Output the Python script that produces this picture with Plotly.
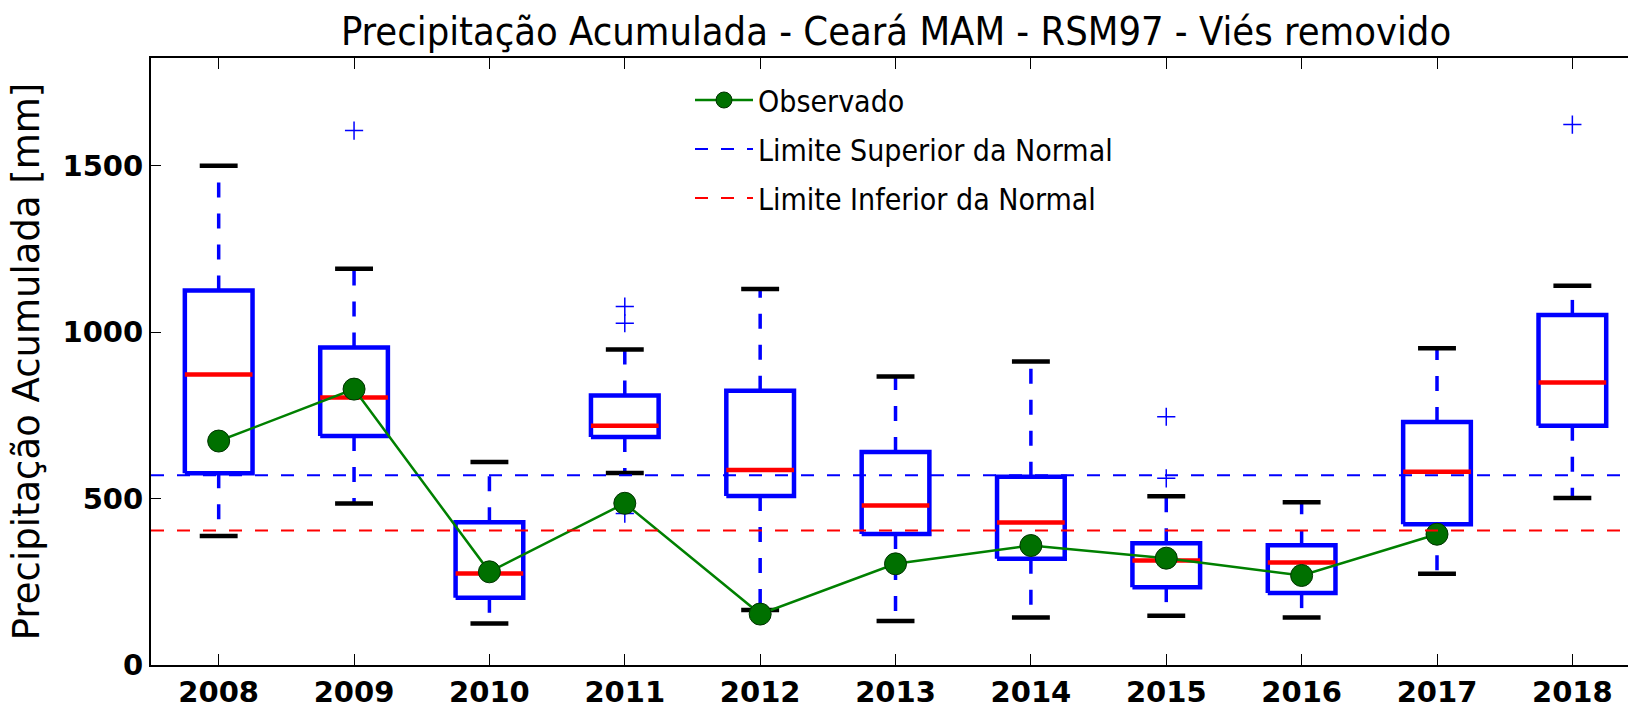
import plotly.graph_objects as go

# Boxplot statistics of the ensemble, per year (mm)
anos = [2008, 2009, 2010, 2011, 2012, 2013, 2014, 2015, 2016, 2017, 2018]
bigode_inf = [388, 485, 125, 577, 165, 132, 143, 148, 143, 274, 502]
q1 = [576, 688, 202, 685, 508, 394, 319, 234, 216, 423, 719]
mediana = [873, 804, 275, 719, 586, 479, 428, 314, 308, 581, 849]
q3 = [1125, 954, 429, 810, 824, 640, 566, 366, 360, 730, 1052]
bigode_sup = [1500, 1191, 610, 948, 1130, 867, 912, 507, 489, 952, 1140]

# Outliers
outlier_anos = [2009, 2011, 2011, 2011, 2015, 2015, 2018]
outlier_vals = [1606, 1077, 1027, 455, 746, 561, 1624]

# Observed accumulated precipitation
obs_anos = [2008, 2009, 2010, 2011, 2012, 2013, 2014, 2015, 2016, 2017]
observado = [673, 829, 280, 486, 153, 304, 359, 321, 269, 393]

# Normal limits
limite_superior = 570
limite_inferior = 404

titulo = "Precipitação Acumulada - Ceará MAM - RSM97 - Viés removido"
rotulo_y = "Precipitação Acumulada [mm]"
y_ticks = [0, 500, 1000, 1500]

HALF_BOX = 0.25
HALF_CAP = 0.14

x_min = anos[0] - 0.5
x_max = anos[-1] + 0.5 - 0.089
y_max = 1824


def hsegs(xc, half, yv):
    xs, ys = [], []
    for x, y in zip(xc, yv):
        xs += [x - half, x + half, None]
        ys += [y, y, None]
    return xs, ys


def vsegs(xc, y0, y1):
    xs, ys = [], []
    for x, a, b in zip(xc, y0, y1):
        xs += [x, x, None]
        ys += [a, b, None]
    return xs, ys


fig = go.Figure()

# whiskers (dashed, starting at the box edges)
wx1, wy1 = vsegs(anos, q3, bigode_sup)
wx2, wy2 = vsegs(anos, q1, bigode_inf)
fig.add_trace(go.Scatter(x=wx1 + wx2, y=wy1 + wy2, mode="lines",
                         line=dict(color="#0000ff", width=3.5, dash="15px,16px"),
                         showlegend=False, hoverinfo="skip"))

# boxes
bx, by = [], []
for x, a, b in zip(anos, q1, q3):
    bx += [x - HALF_BOX, x + HALF_BOX, x + HALF_BOX, x - HALF_BOX, x - HALF_BOX, None]
    by += [a, a, b, b, a, None]
fig.add_trace(go.Scatter(x=bx, y=by, mode="lines",
                         line=dict(color="#0000ff", width=4.5),
                         showlegend=False, hoverinfo="skip"))

# caps
cx1, cy1 = hsegs(anos, HALF_CAP, bigode_sup)
cx2, cy2 = hsegs(anos, HALF_CAP, bigode_inf)
fig.add_trace(go.Scatter(x=cx1 + cx2, y=cy1 + cy2, mode="lines",
                         line=dict(color="#000000", width=4.5),
                         showlegend=False, hoverinfo="skip"))

# medians
mx, my = hsegs(anos, HALF_BOX, mediana)
fig.add_trace(go.Scatter(x=mx, y=my, mode="lines",
                         line=dict(color="#ff0000", width=4.5),
                         showlegend=False, hoverinfo="skip"))

# outliers
fig.add_trace(go.Scatter(x=outlier_anos, y=outlier_vals, mode="markers",
                         marker=dict(symbol="cross-thin", size=13,
                                     line=dict(color="#0000ff", width=1.5)),
                         showlegend=False, hoverinfo="skip"))

# observed
fig.add_trace(go.Scatter(x=obs_anos, y=observado, mode="lines+markers",
                         name="Observado", legendgroup="obs",
                         line=dict(color="#008000", width=2.5),
                         marker=dict(size=22, color="#007000",
                                     line=dict(color="#003300", width=1)),
                         legendrank=1))

# normal limits
fig.add_trace(go.Scatter(x=[x_min, x_max], y=[limite_superior] * 2, mode="lines",
                         name="Limite Superior da Normal", legendgroup="sup",
                         line=dict(color="#0000ff", width=2, dash="13px,13px"),
                         legendrank=2))
fig.add_trace(go.Scatter(x=[x_min, x_max], y=[limite_inferior] * 2, mode="lines",
                         name="Limite Inferior da Normal", legendgroup="inf",
                         line=dict(color="#ff0000", width=2, dash="13px,13px"),
                         legendrank=3))

fig.update_layout(
    width=1628, height=708,
    margin=dict(l=151, r=0, t=58, b=43),
    paper_bgcolor="white", plot_bgcolor="white",
    title=dict(text=titulo, x=896 / 1628, xanchor="center", xref="container",
               y=1 - 17 / 708, yanchor="top", yref="container",
               font=dict(family="DejaVu Sans Condensed, DejaVu Sans", size=39.5, color="black")),
    legend=dict(x=(690 - 151) / 1477, y=1 - 16 / 607, xanchor="left", yanchor="top",
                bgcolor="rgba(0,0,0,0)", borderwidth=0,
                font=dict(family="DejaVu Sans Condensed, DejaVu Sans", size=30, color="black"),
                itemwidth=58, traceorder="grouped", tracegroupgap=7),
    showlegend=True,
)

fig.update_xaxes(range=[x_min, x_max], tickvals=anos, ticktext=[str(a) for a in anos],
                 showline=True, linecolor="black", linewidth=2, mirror="ticks",
                 ticks="inside", ticklen=11, tickwidth=1, tickcolor="black",
                 showgrid=False, zeroline=False,
                 tickfont=dict(family="DejaVu Sans", size=29, color="black", weight="bold"))
fig.update_yaxes(range=[0, y_max], tickvals=y_ticks,
                 showline=True, linecolor="black", linewidth=2, mirror=False,
                 ticks="inside", ticklen=10, tickwidth=1, tickcolor="black",
                 showgrid=False, zeroline=False,
                 tickfont=dict(family="DejaVu Sans", size=29, color="black", weight="bold"),
                 title=dict(text=rotulo_y, standoff=12,
                            font=dict(family="DejaVu Sans", size=37, color="black")))

fig.write_html("out.html")
